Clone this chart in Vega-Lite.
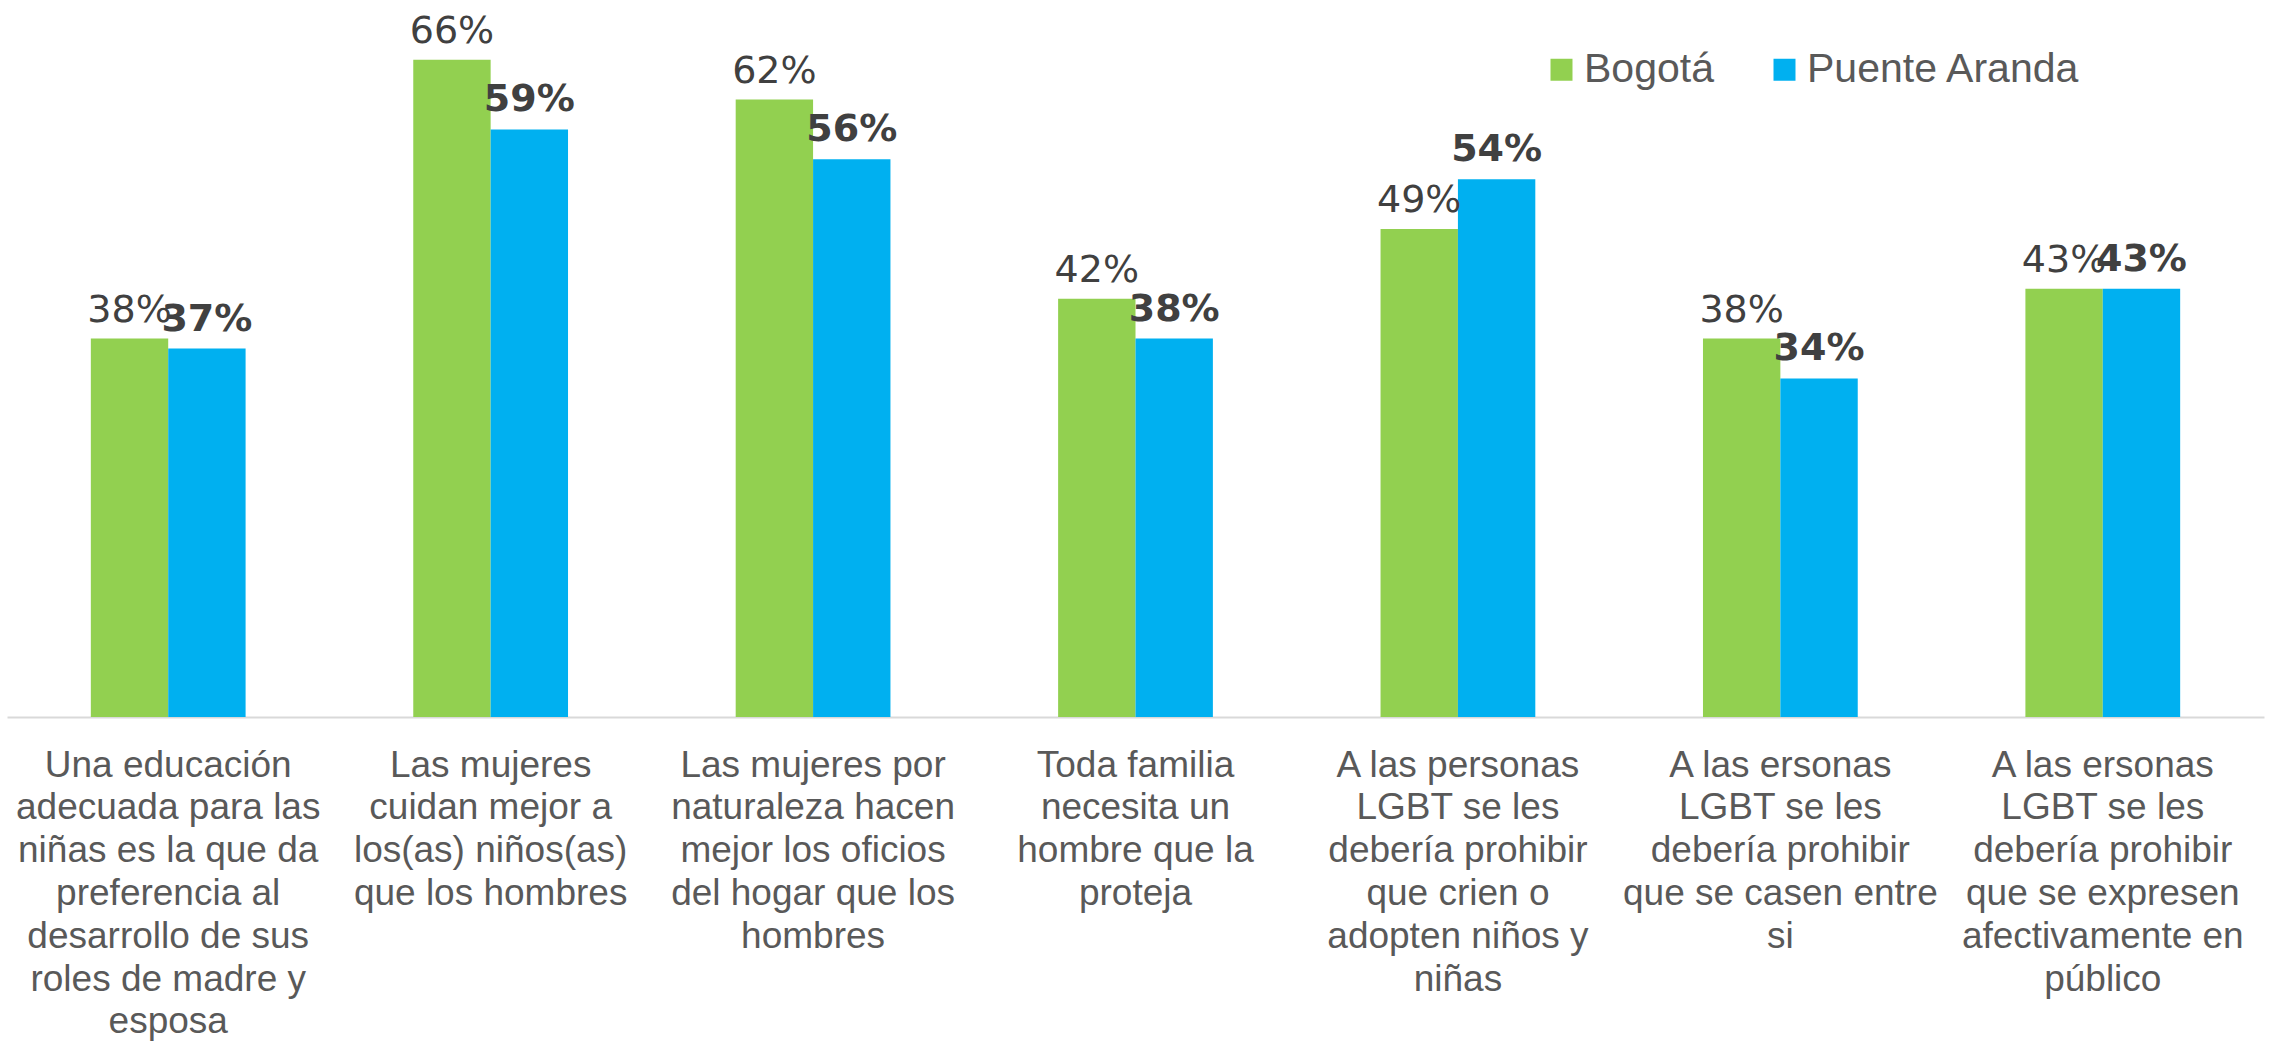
{
  "$schema": "https://vega.github.io/schema/vega-lite/v6.json",
  "width": 2257,
  "height": 717,
  "autosize": {"type": "none"},
  "padding": {"left": 7, "top": 0, "right": 8, "bottom": 324},
  "background": "white",
  "data": {
    "values": [
      {"cat": "Una educación|adecuada para las|niñas es la que da|preferencia al|desarrollo de sus|roles de madre y|esposa", "serie": "Bogotá", "v": 0.38},
      {"cat": "Una educación|adecuada para las|niñas es la que da|preferencia al|desarrollo de sus|roles de madre y|esposa", "serie": "Puente Aranda", "v": 0.37},
      {"cat": "Las mujeres|cuidan mejor a|los(as) niños(as)|que los hombres", "serie": "Bogotá", "v": 0.66},
      {"cat": "Las mujeres|cuidan mejor a|los(as) niños(as)|que los hombres", "serie": "Puente Aranda", "v": 0.59},
      {"cat": "Las mujeres por|naturaleza hacen|mejor los oficios|del hogar que los|hombres", "serie": "Bogotá", "v": 0.62},
      {"cat": "Las mujeres por|naturaleza hacen|mejor los oficios|del hogar que los|hombres", "serie": "Puente Aranda", "v": 0.56},
      {"cat": "Toda familia|necesita un|hombre que la|proteja", "serie": "Bogotá", "v": 0.42},
      {"cat": "Toda familia|necesita un|hombre que la|proteja", "serie": "Puente Aranda", "v": 0.38},
      {"cat": "A las personas|LGBT se les|debería prohibir|que crien o|adopten niños y|niñas", "serie": "Bogotá", "v": 0.49},
      {"cat": "A las personas|LGBT se les|debería prohibir|que crien o|adopten niños y|niñas", "serie": "Puente Aranda", "v": 0.54},
      {"cat": "A las ersonas|LGBT se les|debería prohibir|que se casen entre|si", "serie": "Bogotá", "v": 0.38},
      {"cat": "A las ersonas|LGBT se les|debería prohibir|que se casen entre|si", "serie": "Puente Aranda", "v": 0.34},
      {"cat": "A las ersonas|LGBT se les|debería prohibir|que se expresen|afectivamente en|público", "serie": "Bogotá", "v": 0.43},
      {"cat": "A las ersonas|LGBT se les|debería prohibir|que se expresen|afectivamente en|público", "serie": "Puente Aranda", "v": 0.43}
    ]
  },
  "encoding": {
    "x": {
      "field": "cat",
      "type": "nominal",
      "sort": null,
      "scale": {"paddingInner": 0.52, "paddingOuter": 0.26},
      "axis": {
        "title": null,
        "labelAngle": 0,
        "labelFont": "Liberation Sans",
        "labelFontSize": 37,
        "labelColor": "#595959",
        "labelLineHeight": 42.8,
        "labelPadding": 30,
        "labelLimit": 0,
        "labelOverlap": false,
        "labelBound": false,
        "ticks": false,
        "domainColor": "#D9D9D9",
        "domainWidth": 2,
        "grid": false,
        "labelExpr": "split(datum.label, '|')"
      }
    },
    "xOffset": {"field": "serie", "type": "nominal", "sort": ["Bogotá", "Puente Aranda"]},
    "y": {"field": "v", "type": "quantitative", "scale": {"domain": [0, 0.72]}, "axis": null}
  },
  "layer": [
    {
      "mark": {"type": "bar"},
      "encoding": {
        "color": {
          "field": "serie",
          "type": "nominal",
          "scale": {"domain": ["Bogotá", "Puente Aranda"], "range": ["#92D050", "#00B0F0"]},
          "legend": {
            "title": null,
            "orient": "none",
            "legendX": 1534,
            "legendY": 49,
            "direction": "horizontal",
            "symbolType": "square",
            "symbolSize": 484,
            "symbolStrokeWidth": 0,
            "symbolOpacity": 1,
            "labelFont": "Liberation Sans",
            "labelFontSize": 41,
            "labelColor": "#595959",
            "labelOffset": 2,
            "labelLimit": 0,
            "columnPadding": 50,
            "padding": 0
          }
        }
      }
    },
    {
      "transform": [{"filter": "datum.serie === 'Bogotá'"}],
      "mark": {"type": "text", "font": "DejaVu Sans", "fontSize": 38, "color": "#404040", "baseline": "alphabetic", "dy": -17},
      "encoding": {"text": {"field": "v", "type": "quantitative", "format": ".0%"}}
    },
    {
      "transform": [{"filter": "datum.serie === 'Puente Aranda'"}],
      "mark": {"type": "text", "font": "DejaVu Sans", "fontWeight": "bold", "fontSize": 38, "color": "#404040", "baseline": "alphabetic", "dy": -18},
      "encoding": {"text": {"field": "v", "type": "quantitative", "format": ".0%"}}
    }
  ],
  "config": {"view": {"stroke": null}}
}
